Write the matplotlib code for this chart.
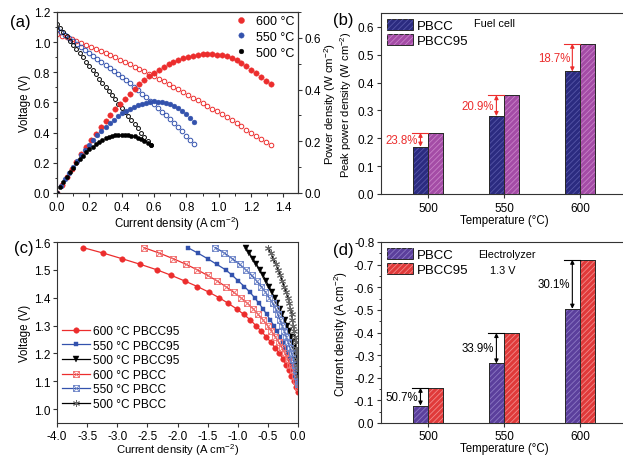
import numpy as np
import matplotlib
matplotlib.use('Agg')
import matplotlib.pyplot as plt
from matplotlib.ticker import MultipleLocator, FormatStrFormatter
from matplotlib.path import Path
from matplotlib.legend_handler import HandlerTuple

plt.rcParams['font.family'] = ['Liberation Sans', 'DejaVu Sans']
plt.rcParams['mathtext.fontset'] = 'custom'
plt.rcParams['mathtext.rm'] = 'Liberation Sans'
plt.rcParams['mathtext.it'] = 'Liberation Sans:italic'
plt.rcParams['mathtext.bf'] = 'Liberation Sans:bold'
plt.rcParams['axes.unicode_minus'] = False
plt.rcParams['font.size'] = 8.3
plt.rcParams['hatch.linewidth'] = 0.6
plt.rcParams['axes.linewidth'] = 0.8
plt.rcParams['axes.edgecolor'] = '#333333'
for a in ('xtick', 'ytick'):
    plt.rcParams[a + '.major.size'] = 3
    plt.rcParams[a + '.minor.size'] = 1.8
    plt.rcParams[a + '.major.width'] = 0.8
    plt.rcParams[a + '.minor.width'] = 0.7
    plt.rcParams[a + '.color'] = '#333333'
    plt.rcParams[a + '.labelcolor'] = 'black'
    plt.rcParams[a + '.labelsize'] = 8.5
plt.rcParams['xtick.major.pad'] = 2.5
plt.rcParams['ytick.major.pad'] = 1.8

# ---------------- panel (a) data: I-V curves (fuel cell) ----------------
cur_600 = [0.00, 0.03, 0.06, 0.09, 0.12, 0.15, 0.18, 0.21, 0.24, 0.27, 0.30, 0.33, 0.36, 0.39,
           0.42, 0.45, 0.48, 0.51, 0.54, 0.57, 0.60, 0.63, 0.66, 0.69, 0.72, 0.75, 0.78, 0.81,
           0.84, 0.87, 0.90, 0.93, 0.96, 0.99, 1.02, 1.05, 1.08, 1.11, 1.14, 1.17, 1.20, 1.23,
           1.26, 1.29, 1.32]
volt_600 = [1.056, 1.044, 1.032, 1.020, 1.008, 0.995, 0.982, 0.969, 0.955, 0.942, 0.928, 0.913,
            0.899, 0.884, 0.869, 0.854, 0.838, 0.823, 0.807, 0.791, 0.775, 0.758, 0.741, 0.723,
            0.705, 0.687, 0.669, 0.651, 0.633, 0.615, 0.597, 0.578, 0.560, 0.541, 0.522, 0.503,
            0.483, 0.463, 0.442, 0.420, 0.398, 0.378, 0.357, 0.337, 0.318]
cur_550 = [0.000, 0.025, 0.050, 0.075, 0.100, 0.125, 0.150, 0.175, 0.200, 0.225, 0.250, 0.275,
           0.300, 0.325, 0.350, 0.375, 0.400, 0.425, 0.450, 0.475, 0.500, 0.525, 0.550, 0.575,
           0.600, 0.625, 0.650, 0.675, 0.700, 0.725, 0.750, 0.775, 0.800, 0.825, 0.850]
volt_550 = [1.089, 1.069, 1.049, 1.030, 1.010, 0.990, 0.970, 0.951, 0.931, 0.911, 0.891, 0.871,
            0.851, 0.831, 0.810, 0.790, 0.769, 0.748, 0.726, 0.704, 0.682, 0.659, 0.636, 0.613,
            0.590, 0.565, 0.540, 0.515, 0.490, 0.463, 0.436, 0.408, 0.380, 0.352, 0.322]
cur_500 = [0.00, 0.02, 0.04, 0.06, 0.08, 0.10, 0.12, 0.14, 0.16, 0.18, 0.20, 0.22, 0.24, 0.26,
           0.28, 0.30, 0.32, 0.34, 0.36, 0.38, 0.40, 0.42, 0.44, 0.46, 0.48, 0.50, 0.52, 0.54,
           0.56, 0.58]
volt_500 = [1.123, 1.095, 1.067, 1.039, 1.011, 0.983, 0.955, 0.927, 0.899, 0.871, 0.843, 0.815,
            0.787, 0.759, 0.731, 0.703, 0.676, 0.648, 0.620, 0.593, 0.565, 0.538, 0.510, 0.483,
            0.456, 0.428, 0.401, 0.374, 0.347, 0.320]

# ---------------- panel (b) data ----------------
temps = [500, 550, 600]
ppd_pbcc = [0.17, 0.28, 0.44]
ppd_pbcc95 = [0.22, 0.355, 0.54]
ppd_gain = ['23.8%', '20.9%', '18.7%']

# ---------------- panel (c) data: electrolysis I-V ----------------
v_600_95 = [1.58, 1.56, 1.54, 1.52, 1.50, 1.48, 1.46, 1.44, 1.42, 1.40, 1.38, 1.36, 1.34, 1.32,
            1.30, 1.28, 1.26, 1.24, 1.22, 1.20, 1.18, 1.16, 1.14, 1.12, 1.10, 1.08, 1.06]
i_600_95 = [-3.57, -3.23, -2.92, -2.62, -2.34, -2.10, -1.88, -1.67, -1.48, -1.31, -1.16, -1.02,
            -0.90, -0.79, -0.70, -0.61, -0.53, -0.45, -0.38, -0.31, -0.25, -0.20, -0.15, -0.11,
            -0.07, -0.035, 0.0]
v_550_95 = [1.58, 1.56, 1.54, 1.52, 1.50, 1.48, 1.46, 1.44, 1.42, 1.40, 1.38, 1.36, 1.34, 1.32,
            1.30, 1.28, 1.26, 1.24, 1.22, 1.20, 1.18, 1.16, 1.14, 1.12, 1.10, 1.09]
i_550_95 = [-1.83, -1.66, -1.50, -1.35, -1.20, -1.09, -0.99, -0.89, -0.80, -0.72, -0.65, -0.58,
            -0.52, -0.46, -0.40, -0.35, -0.30, -0.255, -0.21, -0.17, -0.135, -0.10, -0.07,
            -0.045, -0.02, 0.0]
v_500_95 = [1.58, 1.56, 1.54, 1.52, 1.50, 1.48, 1.46, 1.44, 1.42, 1.40, 1.38, 1.36, 1.34, 1.32,
            1.30, 1.28, 1.26, 1.24, 1.22, 1.20, 1.18, 1.16, 1.14, 1.12]
i_500_95 = [-0.87, -0.81, -0.75, -0.69, -0.635, -0.58, -0.53, -0.48, -0.435, -0.39, -0.345,
            -0.305, -0.265, -0.22, -0.18, -0.145, -0.12, -0.095, -0.072, -0.052, -0.035, -0.02,
            -0.008, 0.0]
v_600 = [1.58, 1.56, 1.54, 1.52, 1.50, 1.48, 1.46, 1.44, 1.42, 1.40, 1.38, 1.36, 1.34, 1.32,
         1.30, 1.28, 1.26, 1.24, 1.22, 1.20, 1.18, 1.16, 1.14, 1.12, 1.10, 1.08]
i_600 = [-2.56, -2.30, -2.07, -1.86, -1.67, -1.50, -1.34, -1.20, -1.07, -0.95, -0.84, -0.745,
         -0.66, -0.58, -0.505, -0.44, -0.38, -0.32, -0.265, -0.215, -0.17, -0.13, -0.09, -0.055,
         -0.025, 0.0]
v_550 = [1.58, 1.56, 1.54, 1.52, 1.50, 1.48, 1.46, 1.44, 1.42, 1.40, 1.38, 1.36, 1.34, 1.32,
         1.30, 1.28, 1.26, 1.24, 1.22, 1.20, 1.18, 1.16, 1.14, 1.12, 1.10, 1.09]
i_550 = [-1.37, -1.22, -1.09, -0.97, -0.865, -0.77, -0.685, -0.61, -0.54, -0.48, -0.42, -0.37,
         -0.335, -0.297, -0.263, -0.228, -0.195, -0.163, -0.133, -0.105, -0.08, -0.058, -0.038,
         -0.021, -0.008, 0.0]
v_500 = [1.58, 1.56, 1.54, 1.52, 1.50, 1.48, 1.46, 1.44, 1.42, 1.40, 1.38, 1.36, 1.34, 1.32,
         1.30, 1.28, 1.26, 1.24, 1.22, 1.20, 1.18, 1.16, 1.14, 1.12]
i_500 = [-0.50, -0.455, -0.41, -0.37, -0.33, -0.295, -0.26, -0.228, -0.198, -0.17, -0.145,
         -0.125, -0.107, -0.092, -0.078, -0.064, -0.052, -0.041, -0.031, -0.023, -0.016, -0.010,
         -0.005, 0.0]

# ---------------- panel (d) data ----------------
ec_pbcc = [-0.077, -0.263, -0.505]
ec_pbcc95 = [-0.156, -0.398, -0.722]
ec_gain = ['50.7%', '33.9%', '30.1%']

RED = '#ec2d2d'
BLUE = '#3352ad'
BLACK = '#000000'

W, H = 623, 456
fig = plt.figure(figsize=(W / 100, H / 100), dpi=100)


def box(l, t, r, b):
    return [l / W, 1 - b / H, (r - l) / W, (b - t) / H]


ax_a = fig.add_axes(box(57, 13, 298, 194))
ax_b = fig.add_axes(box(381, 14, 627, 195))
ax_c = fig.add_axes(box(57, 243, 298, 424))
ax_d = fig.add_axes(box(381, 243, 627, 424))

CUR = 'Current density (A cm$^{-2}$)'

# ---------------- (a) ----------------
ax_p = ax_a.twinx()
curves = [(cur_600, volt_600, RED, '600 °C', 3.3, 3.9),
          (cur_550, volt_550, BLUE, '550 °C', 3.3, 3.5),
          (cur_500, volt_500, BLACK, '500 °C', 2.8, 3.1)]
handles = []
for cur, volt, col, lab, ms_o, ms_f in curves:
    c = np.array(cur)
    v = np.array(volt)
    ax_a.plot(c, v, 'o', ms=ms_o, mfc='none', mec=col, mew=0.7, ls='none')
    h, = ax_p.plot(c, c * v, 'o', ms=ms_f, color=col, mec=col, mew=0.3, ls='none', label=lab)
    handles.append(h)
ax_a.set_xlim(0, 1.49)
ax_a.set_ylim(0, 1.2)
ax_p.set_ylim(0, 0.7)
ax_a.xaxis.set_major_locator(MultipleLocator(0.2))
ax_a.xaxis.set_minor_locator(MultipleLocator(0.1))
ax_a.yaxis.set_major_locator(MultipleLocator(0.2))
ax_a.yaxis.set_minor_locator(MultipleLocator(0.1))
ax_p.yaxis.set_major_locator(MultipleLocator(0.2))
ax_p.yaxis.set_minor_locator(MultipleLocator(0.1))
for ax in (ax_a, ax_p):
    ax.xaxis.set_major_formatter(FormatStrFormatter('%.1f'))
    ax.yaxis.set_major_formatter(FormatStrFormatter('%.1f'))
ax_a.set_xlabel(CUR, labelpad=0.5)
ax_a.set_ylabel('Voltage (V)', labelpad=2)
ax_p.set_ylabel('Power density (W cm$^{-2}$)', labelpad=1, fontsize=8.2)
ax_p.legend(handles=handles, loc='upper right', bbox_to_anchor=(1.0, 1.0), frameon=False,
            fontsize=9, handlelength=0.8, handletextpad=0.8, labelspacing=0.3,
            borderaxespad=0.0, borderpad=0.25, markerscale=1.1)

# ---------------- bar helper ----------------
def bars(ax, x, vals, face, hatchcol, offset):
    b = ax.bar([t + offset for t in x], vals, width=10, align='edge', color=face,
               edgecolor='#2a2a2a', linewidth=0.7, zorder=2)
    h = ax.bar([t + offset for t in x], vals, width=10, align='edge', fill=False,
               hatch='//////', edgecolor=hatchcol, linewidth=0, zorder=3)
    ax.bar([t + offset for t in x], vals, width=10, align='edge', fill=False,
           edgecolor='#2a2a2a', linewidth=0.7, zorder=4)
    return (b[0], h[0])


def gain_marks(ax, x, lo, hi, labels, col):
    for t, a, b_, lab in zip(x, lo, hi, labels):
        ax.plot([t - 10.5, t], [b_, b_], color=col, lw=0.8, zorder=5)
        ax.annotate('', xy=(t - 5, b_), xytext=(t - 5, a),
                    arrowprops=dict(arrowstyle='<|-|>', color=col, lw=0.8,
                                    mutation_scale=6, shrinkA=0, shrinkB=0), zorder=5)
        ax.text(t - 6.5, (a + b_) / 2, lab, ha='right', va='center', color=col, fontsize=8.3)


# ---------------- (b) ----------------
hb1 = bars(ax_b, temps, ppd_pbcc, '#2b2b80', '#5656a8', -10)
hb2 = bars(ax_b, temps, ppd_pbcc95, '#a44ca6', '#c882c8', 0)
gain_marks(ax_b, temps, ppd_pbcc, ppd_pbcc95, ppd_gain, RED)
ax_b.set_xlim(469, 631)
ax_b.set_ylim(0, 0.65)
ax_b.set_xticks(temps)
ax_b.yaxis.set_major_locator(MultipleLocator(0.1))
ax_b.yaxis.set_major_formatter(FormatStrFormatter('%.1f'))
ax_b.set_xlabel('Temperature (°C)', labelpad=0.5)
ax_b.set_ylabel('Peak power density (W cm$^{-2}$)', labelpad=2.5, fontsize=8.0)
ax_b.spines['right'].set_visible(False)
ax_b.legend([hb1, hb2], ['PBCC', 'PBCC95'], handler_map={tuple: HandlerTuple(ndivide=1)},
            loc='upper left', frameon=False, fontsize=9.5, handlelength=2.0,
            handleheight=0.9, handletextpad=0.25, labelspacing=0.15,
            borderaxespad=0.25, borderpad=0.2)
ax_b.text(544, 0.614, 'Fuel cell', ha='center', va='center', fontsize=7.8)

# ---------------- (c) ----------------
sqx = Path([(-1, -1), (1, -1), (1, 1), (-1, 1), (-1, -1), (-1, -1), (1, 1), (-1, 1), (1, -1)],
           [Path.MOVETO, Path.LINETO, Path.LINETO, Path.LINETO, Path.CLOSEPOLY,
            Path.MOVETO, Path.LINETO, Path.MOVETO, Path.LINETO])
series_c = [
    (i_600_95, v_600_95, RED, 'o', dict(ms=4.0, mfc=RED, mec=RED, mew=0.3), '600 °C PBCC95'),
    (i_550_95, v_550_95, BLUE, 's', dict(ms=3.3, mfc=BLUE, mec=BLUE, mew=0.3), '550 °C PBCC95'),
    (i_500_95, v_500_95, BLACK, 'v', dict(ms=3.9, mfc=BLACK, mec=BLACK, mew=0.3), '500 °C PBCC95'),
    (i_600, v_600, RED, sqx, dict(ms=4.2, mfc='none', mec='#f07070', mew=0.6), '600 °C PBCC'),
    (i_550, v_550, BLUE, sqx, dict(ms=4.2, mfc='none', mec='#6f86c8', mew=0.6), '550 °C PBCC'),
    (i_500, v_500, BLACK, (6, 2, 0), dict(ms=5.0, mfc='none', mec='#666666', mew=0.7), '500 °C PBCC'),
]
for i_, v_, col, mk, kw, lab in series_c:
    ax_c.plot(i_, v_, color=col, lw=0.9, marker=mk, label=lab, **kw)
ax_c.set_xlim(-4.0, 0.0)
ax_c.set_ylim(0.95, 1.6)
ax_c.xaxis.set_major_locator(MultipleLocator(0.5))
ax_c.yaxis.set_major_locator(MultipleLocator(0.1))
ax_c.xaxis.set_major_formatter(FormatStrFormatter('%.1f'))
ax_c.yaxis.set_major_formatter(FormatStrFormatter('%.1f'))
ax_c.tick_params(axis='x', pad=1.8)
ax_c.set_xlabel(CUR, labelpad=-0.5, fontsize=8.1)
ax_c.set_ylabel('Voltage (V)', labelpad=2)
ax_c.legend(loc='lower left', bbox_to_anchor=(0.0, 0.045), frameon=False, fontsize=8.6,
            handlelength=2.4, handletextpad=0.2, labelspacing=0.22, borderaxespad=0.0,
            borderpad=0.4)

# ---------------- (d) ----------------
hd1 = bars(ax_d, temps, ec_pbcc, '#5b3f9c', '#8c78c4', -10)
hd2 = bars(ax_d, temps, ec_pbcc95, '#e03a3a', '#f28a8a', 0)
gain_marks(ax_d, temps, ec_pbcc, ec_pbcc95, ec_gain, BLACK)
ax_d.set_xlim(469, 631)
ax_d.set_ylim(0, -0.8)
ax_d.set_xticks(temps)
ax_d.yaxis.set_major_locator(MultipleLocator(0.1))
ax_d.yaxis.set_minor_locator(MultipleLocator(0.05))
ax_d.yaxis.set_major_formatter(FormatStrFormatter('%.1f'))
ax_d.tick_params(axis='x', pad=1.8)
ax_d.set_xlabel('Temperature (°C)', labelpad=0)
ax_d.set_ylabel(CUR, labelpad=2.5)
ax_d.spines['right'].set_visible(False)
ax_d.legend([hd1, hd2], ['PBCC', 'PBCC95'], handler_map={tuple: HandlerTuple(ndivide=1)},
            loc='upper left', frameon=False, fontsize=9.5, handlelength=2.0,
            handleheight=0.9, handletextpad=0.25, labelspacing=0.15,
            borderaxespad=0.25, borderpad=0.2)
ax_d.text(552, -0.748, 'Electrolyzer', ha='center', va='center', fontsize=7.8)
ax_d.text(549, -0.678, '1.3 V', ha='center', va='center', fontsize=7.8)

# panel labels
fig.text(10 / W, 1 - 22 / H, '(a)', fontsize=12, va='center', ha='left')
fig.text(333 / W, 1 - 21 / H, '(b)', fontsize=12, va='center', ha='left')
fig.text(14 / W, 1 - 249 / H, '(c)', fontsize=12, va='center', ha='left')
fig.text(333 / W, 1 - 250 / H, '(d)', fontsize=12, va='center', ha='left')

fig.savefig('out.png', dpi=100)
